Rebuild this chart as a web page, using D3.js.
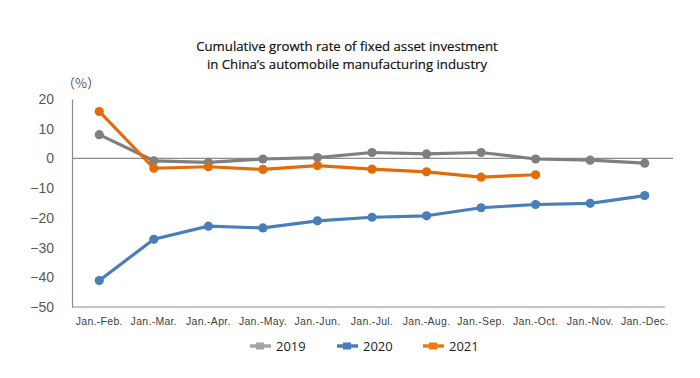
<!DOCTYPE html>
<html><head><meta charset="utf-8">
<script src="https://cdn.jsdelivr.net/npm/d3@7"></script>
<style>body{margin:0;background:#fff}</style>
</head><body><svg id="c" width="700" height="378"></svg>
<script>
const categories = ["Jan.-Feb.","Jan.-Mar.","Jan.-Apr.","Jan.-May.","Jan.-Jun.","Jan.-Jul.","Jan.-Aug.","Jan.-Sep.","Jan.-Oct.","Jan.-Nov.","Jan.-Dec."];
const s2019 = [8.0,-0.8,-1.3,-0.2,0.3,2.0,1.5,2.0,-0.2,-0.6,-1.6];
const s2020 = [-41.1,-27.2,-22.8,-23.4,-21.0,-19.8,-19.3,-16.6,-15.5,-15.1,-12.5];
const s2021 = [15.8,-3.3,-2.8,-3.7,-2.4,-3.6,-4.5,-6.3,-5.5];
const yTicks = [20,10,0,-10,-20,-30,-40,-50];
const seriesNames = ["2019","2020","2021"];
const titleLines = ["Cumulative growth rate of fixed asset investment","in China\u2019s automobile manufacturing industry"];

const colors = {"2019":"#7f7f7f","2020":"#4a7ebb","2021":"#e36c0a"};
const legendColors = {"2019":"#a5a5a5","2020":"#4a7ebb","2021":"#f0780e"};
const svg = d3.select("#c");
const x = d3.scaleBand().domain(categories).range([72,672]);
const y = d3.scaleLinear().domain([-50,20]).range([307,99]);

svg.append("g").selectAll("text").data(titleLines).join("text")
  .attr("x",347).attr("y",(d,i)=>51+i*18).attr("text-anchor","middle")
  .attr("font-family","'Open Sans', sans-serif").attr("font-size",13.2).attr("fill","#111")
  .attr("stroke","#111").attr("stroke-width",0.2)
  .text(d=>d);

svg.append("text").attr("x",62).attr("y",88).attr("font-family","'Noto Sans CJK SC', sans-serif")
  .attr("font-size",13).attr("fill","#595959").text("（%）");

// y axis
const yAx = svg.append("g").attr("transform","translate(72,0)")
  .call(d3.axisLeft(y).tickValues(yTicks).tickSize(0).tickPadding(18));
yAx.select(".domain").attr("stroke","#8c8c8c").attr("stroke-width",1.2);
yAx.selectAll("text").attr("font-family","'Liberation Sans', Arial, sans-serif").attr("font-size",14).attr("fill","#595959");

// x axis bottom
const xAx = svg.append("g").attr("transform","translate(0,307)")
  .call(d3.axisBottom(x).tickSize(0).tickPadding(11));
xAx.select(".domain").attr("d","M72,0H665").attr("stroke","#8c8c8c").attr("stroke-width",1.2);
xAx.selectAll("text").attr("font-family","'Liberation Sans', Arial, sans-serif").attr("font-size",10.5).attr("letter-spacing",0.3).attr("fill","#404040");

// zero line
svg.append("line").attr("x1",72).attr("x2",673).attr("y1",y(0)).attr("y2",y(0)).attr("stroke","#8c8c8c").attr("stroke-width",1.2);

const cx = d => x(d) + x.bandwidth()/2;
const data = {"2019":s2019,"2020":s2020,"2021":s2021};
const line = d3.line().x(d=>cx(d.c)).y(d=>y(d.v));
seriesNames.forEach(n=>{
  const pts = data[n].map((v,i)=>({c:categories[i],v}));
  const g = svg.append("g");
  g.append("path").datum(pts).attr("d",line).attr("fill","none").attr("stroke",colors[n]).attr("stroke-width",3.2).attr("stroke-linejoin","round");
  g.selectAll("circle").data(pts).join("circle").attr("cx",d=>cx(d.c)).attr("cy",d=>y(d.v)).attr("r",4.6).attr("fill",colors[n]);
});

// legend
const lx = {"2019":260,"2020":347,"2021":433};
seriesNames.forEach(n=>{
  const g = svg.append("g").attr("transform",`translate(${lx[n]},346)`);
  g.append("line").attr("x1",-10).attr("x2",11).attr("stroke",legendColors[n]).attr("stroke-width",3.5);
  g.append("rect").attr("x",-4).attr("y",-3.5).attr("width",8).attr("height",7).attr("fill",legendColors[n]);
  g.append("text").attr("x",16).attr("y",5).attr("font-family","'Open Sans', sans-serif").attr("font-size",13).attr("fill","#222").text(n);
});
</script></body></html>
